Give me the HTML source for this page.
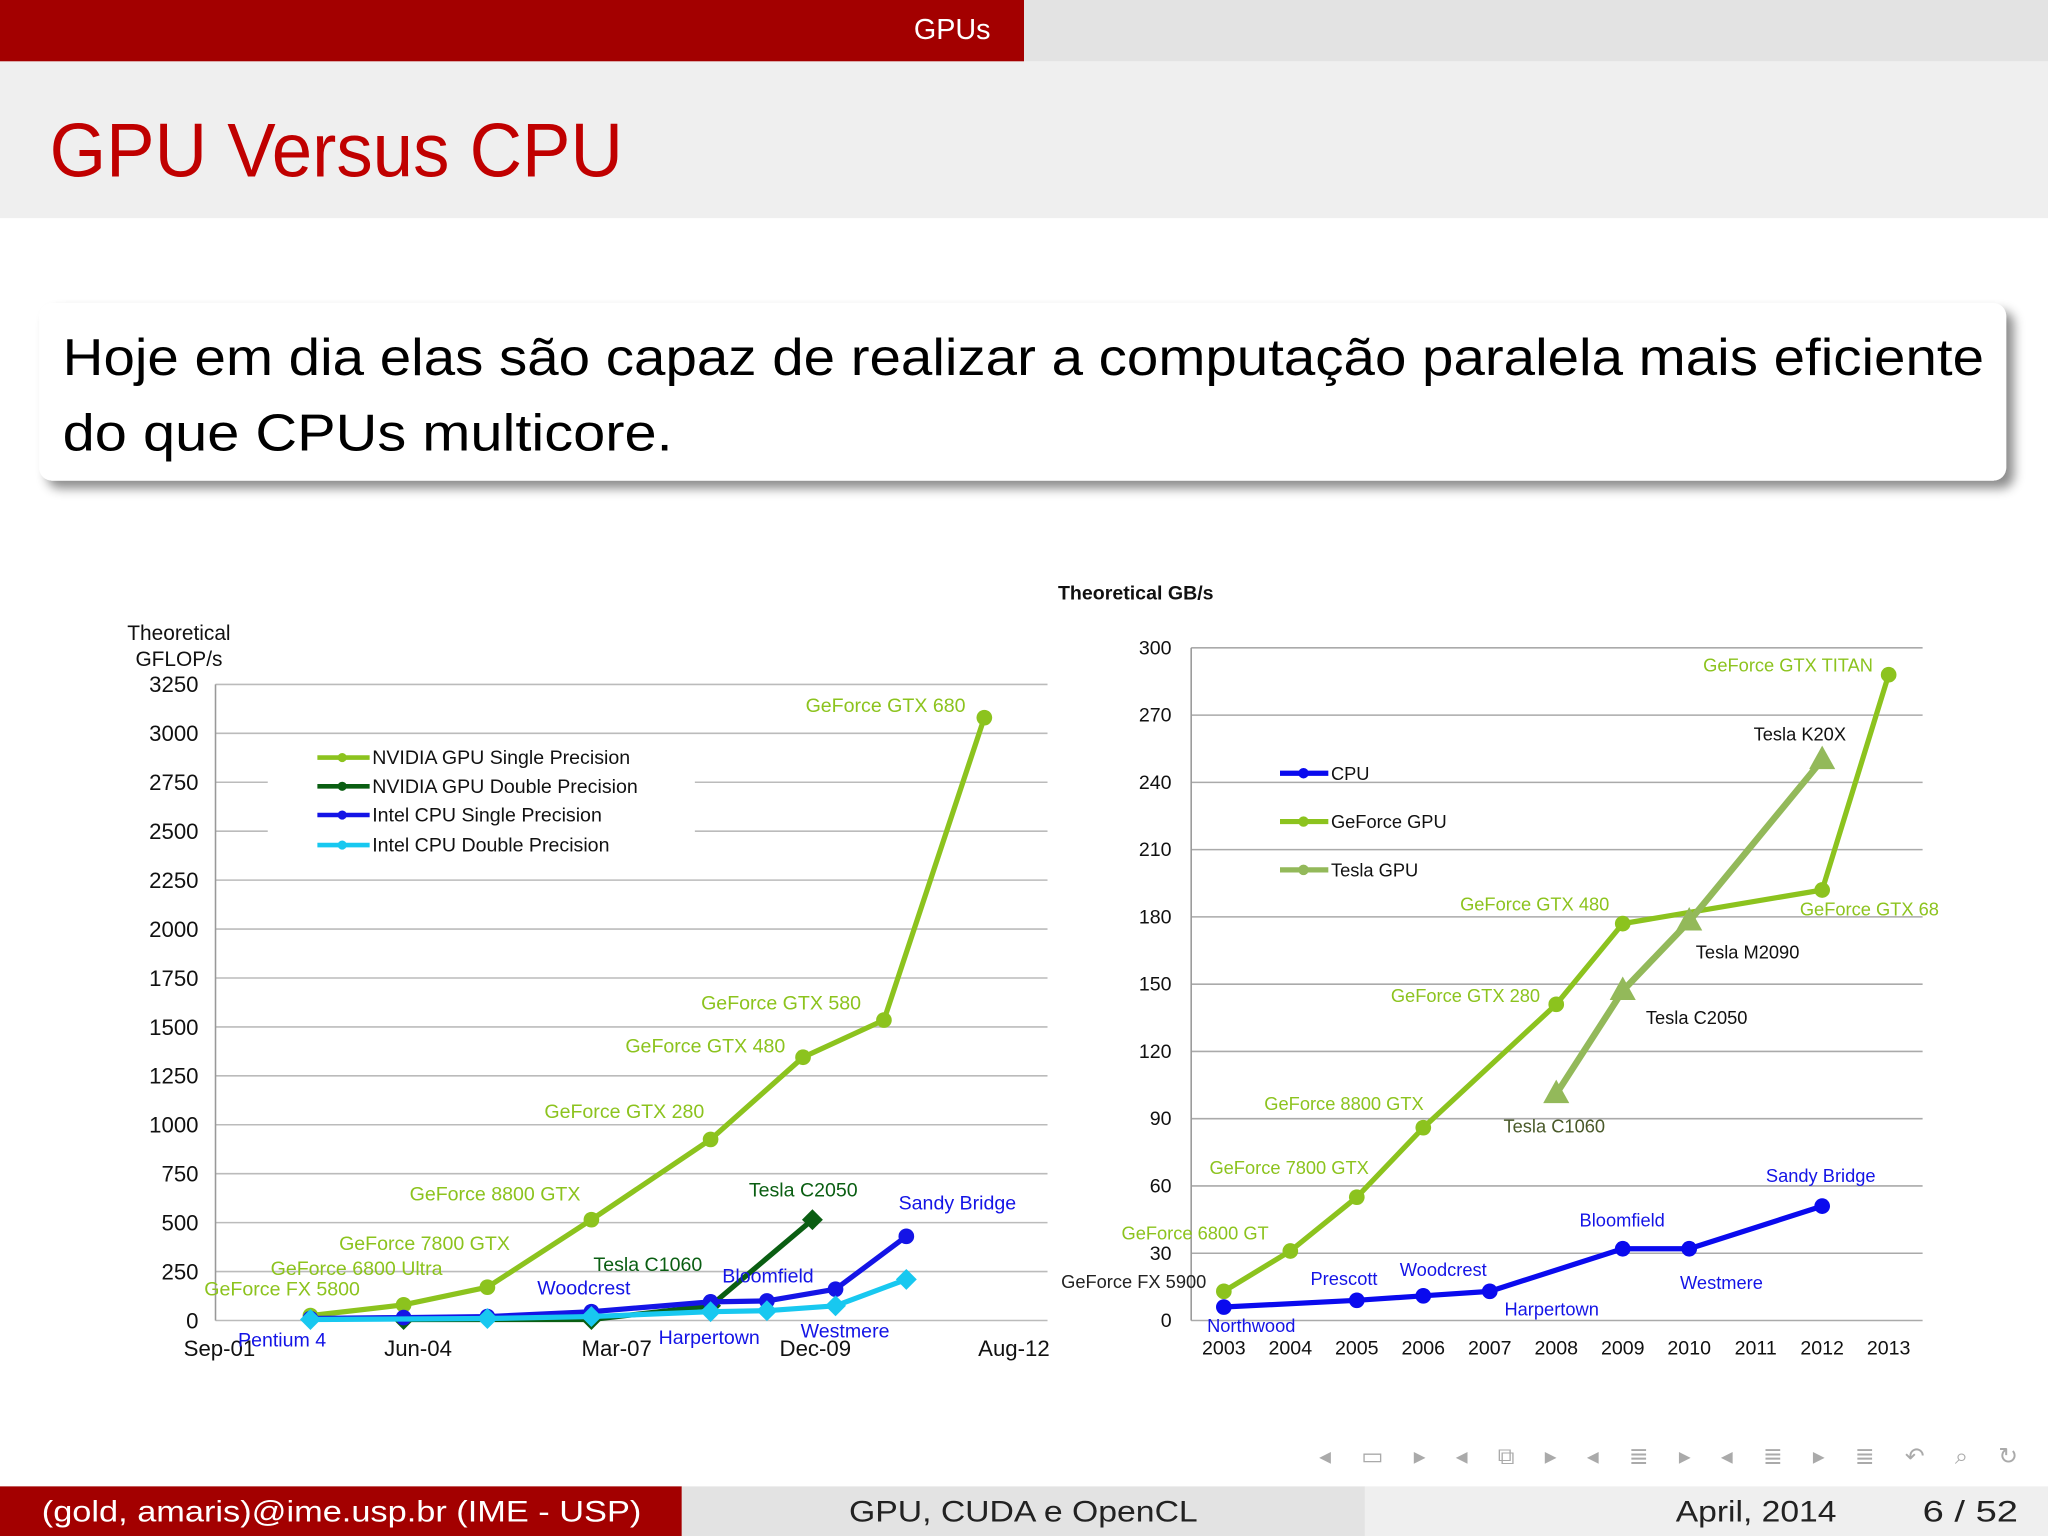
<!DOCTYPE html>
<html><head><meta charset="utf-8"><style>
html,body{margin:0;padding:0;background:#fff;}
svg{display:block;}
text{font-family:"Liberation Sans","DejaVu Sans",sans-serif;}
</style></head><body>
<svg id="slide" width="2048" height="1536" viewBox="0 0 1568 1176" xmlns="http://www.w3.org/2000/svg">
<rect x="0" y="0" width="1568" height="1176" fill="#fff"/>
<g>
<rect x="0" y="0" width="784" height="47" fill="#a30000"/>
<rect x="784" y="0" width="784" height="47" fill="#e3e3e3"/>
<text x="729" y="30" fill="#fff" font-size="22" text-anchor="middle">GPUs</text>
</g>
<rect x="0" y="47" width="1568" height="120" fill="#efefef"/>
<text x="38" y="135" fill="#c00000" font-size="58" textLength="439" lengthAdjust="spacingAndGlyphs">GPU Versus CPU</text>
<defs><filter id="sh" x="-5%" y="-20%" width="115%" height="150%"><feDropShadow dx="6" dy="6" stdDeviation="4" flood-color="#000" flood-opacity="0.45"/></filter></defs>
<rect x="30" y="232" width="1506" height="136" rx="10" fill="#fff" filter="url(#sh)"/>
<text x="48" y="287" font-size="40" fill="#000" textLength="1471" lengthAdjust="spacingAndGlyphs">Hoje em dia elas são capaz de realizar a computação paralela mais eficiente</text>
<text x="48" y="345" font-size="40" fill="#000" textLength="467" lengthAdjust="spacingAndGlyphs">do que CPUs multicore.</text>

<g id="left"></g>
<g id="right"></g>

<g fill="#aaa" font-size="18">
<text x="1010" y="1121" textLength="535" lengthAdjust="spacing">◂ ▭ ▸   ◂ ⧉ ▸   ◂ ≣ ▸   ◂ ≣ ▸   ≣   ↶ ⌕ ↻</text>
</g>
<g>
<rect x="0" y="1138" width="522" height="38" fill="#a30000"/>
<rect x="522" y="1138" width="523" height="38" fill="#e3e3e3"/>
<rect x="1045" y="1138" width="523" height="38" fill="#efefef"/>
<text x="32" y="1165" fill="#fff" font-size="23" textLength="459" lengthAdjust="spacingAndGlyphs">(gold, amaris)@ime.usp.br  (IME - USP)</text>
<text x="650" y="1165" fill="#222" font-size="23" textLength="267" lengthAdjust="spacingAndGlyphs">GPU, CUDA e OpenCL</text>
<text x="1283" y="1165" fill="#222" font-size="23" textLength="123" lengthAdjust="spacingAndGlyphs">April, 2014</text>
<text x="1472" y="1165" fill="#222" font-size="23" textLength="73" lengthAdjust="spacingAndGlyphs">6 / 52</text>
</g>
</svg>
<script>
// ---- Left chart data (fractional year, GFLOP/s)
const leftTicks = [0,250,500,750,1000,1250,1500,1750,2000,2250,2500,2750,3000,3250];
const leftXLabels = ["Sep-01","Jun-04","Mar-07","Dec-09","Aug-12"];
const leftXLabelYears = [2001.67,2004.42,2007.17,2009.92,2012.67];
const gpuSpX = [2002.93,2004.22,2005.38,2006.82,2008.47,2009.75,2010.87,2012.26];
const gpuSpY = [25,80,170,515,925,1345,1535,3080];
const gpuDpX = [2004.22,2006.82,2008.47,2009.88];
const gpuDpY = [5,5,75,515];
const cpuSpX = [2002.93,2004.22,2005.38,2006.82,2008.47,2009.25,2010.2,2011.18];
const cpuSpY = [10,15,20,45,95,100,160,430];
const cpuDpX = [2002.93,2005.38,2006.82,2008.47,2009.25,2010.2,2011.18];
const cpuDpY = [5,10,20,45,50,75,210];
// ---- Right chart data (year, GB/s)
const rightTicks = [0,30,60,90,120,150,180,210,240,270,300];
const rightYears = [2003,2004,2005,2006,2007,2008,2009,2010,2011,2012,2013];
const cpuBwX = [2003,2005,2006,2007,2009,2010,2012];
const cpuBwY = [6,9,11,13,32,32,51];
const geBwX = [2003,2004,2005,2006,2008,2009,2012,2013];
const geBwY = [13,31,55,86,141,177,192,288];
const teslaBwX = [2008,2009,2010,2012];
const teslaBwY = [101,147,178,250];

const NS="http://www.w3.org/2000/svg";
function mk(parent,tag,attrs,txt){const e=document.createElementNS(NS,tag);for(const k in attrs)e.setAttribute(k,attrs[k]);if(txt!==undefined)e.textContent=txt;parent.appendChild(e);return e;}

const L=document.getElementById('left');
const lx=v=>168+(v-2001.67)*55.3;
const ly=v=>1011-v*(487/3250);
leftTicks.forEach(t=>{
 const g=mk(L,'line',{x1:165,x2:802,y1:ly(t),y2:ly(t),stroke:'#bbb','stroke-width':1.2});
 
 
 const tx=mk(L,'text',{x:152,y:ly(t)+6,'font-size':17,'text-anchor':'end',fill:'#111'},String(t));
 
 
});
mk(L,'line',{x1:165,x2:165,y1:524,y2:1011,stroke:'#999','stroke-width':1.2});
leftXLabels.forEach((s,i)=>{
 const tx=mk(L,'text',{x:lx(leftXLabelYears[i]),y:1038,'font-size':17,'text-anchor':'middle',fill:'#111'},s);
 
 
});
const lt=mk(L,'text',{x:137,y:490,'font-size':16,'text-anchor':'middle',fill:'#111'},'Theoretical');


const lt2=mk(L,'text',{x:137,y:510,'font-size':16,'text-anchor':'middle',fill:'#111'},'GFLOP/s');


mk(L,'rect',{x:205,y:566,width:327,height:92,fill:'#fff'});
function series(P,xs,ys,fx,fy,color,marker,name,w){
 const pts=xs.map((x,i)=>fx(x)+','+fy(ys[i])).join(' ');
 const pl=mk(P,'polyline',{points:pts,fill:'none',stroke:color,'stroke-width':w||4,'stroke-linejoin':'round'});
 
 
 xs.forEach((x,i)=>{
  const cx=fx(x),cy=fy(ys[i]);let m;
  if(marker==='circle')m=mk(P,'circle',{cx:cx,cy:cy,r:6,fill:color});
  else if(marker==='diamond')m=mk(P,'polygon',{points:`${cx},${cy-8} ${cx+8},${cy} ${cx},${cy+8} ${cx-8},${cy}`,fill:color});
  else m=mk(P,'polygon',{points:`${cx},${cy-11} ${cx+10},${cy+7} ${cx-10},${cy+7}`,fill:color});
  
  
 });
}
series(L,gpuDpX,gpuDpY,lx,ly,'#0a5e12','diamond','nvidia-dp');
series(L,gpuSpX,gpuSpY,lx,ly,'#8cc31e','circle','nvidia-sp');
series(L,cpuSpX,cpuSpY,lx,ly,'#1414e6','circle','intel-sp');
series(L,cpuDpX,cpuDpY,lx,ly,'#18c8f0','diamond','intel-dp');
const legL=[['NVIDIA GPU Single Precision','#8cc31e'],['NVIDIA GPU Double Precision','#0a5e12'],['Intel CPU Single Precision','#1414e6'],['Intel CPU Double Precision','#18c8f0']];
legL.forEach((d,i)=>{
 const y=[580,602,624,647][i];
 const ln=mk(L,'line',{x1:243,x2:283,y1:y,y2:y,stroke:d[1],'stroke-width':3.5});
 
 
 mk(L,'circle',{cx:262,cy:y,r:3.5,fill:d[1]});
 const t=mk(L,'text',{x:285,y:y+5,'font-size':15,fill:'#111'},d[0]);
 
 
});
const annL=[["GeForce GTX 680",678,545,'#8cc31e'],["GeForce GTX 580",598,773,'#8cc31e'],["GeForce GTX 480",540,806,'#8cc31e'],["GeForce GTX 280",478,856,'#8cc31e'],["GeForce 8800 GTX",379,919,'#8cc31e'],["GeForce 7800 GTX",325,957,'#8cc31e'],["GeForce 6800 Ultra",273,976,'#8cc31e'],["GeForce FX 5800",216,992,'#8cc31e'],["Tesla C2050",615,916,'#0a5e12'],["Tesla C1060",496,973,'#0a5e12'],["Sandy Bridge",733,926,'#1414e6'],["Bloomfield",588,982,'#1414e6'],["Woodcrest",447,991,'#1414e6'],["Pentium 4",216,1031,'#1414e6'],["Harpertown",543,1029,'#1414e6'],["Westmere",647,1024,'#1414e6']];
annL.forEach(a=>{
 const t=mk(L,'text',{x:a[1],y:a[2],'font-size':15,'text-anchor':'middle',fill:a[3]},a[0]);
 
 
});

const R=document.getElementById('right');
const rx=v=>937+(v-2003)*50.9;
const ry=v=>1011-v*(515/300);
rightTicks.forEach(t=>{
 const g=mk(R,'line',{x1:912,x2:1472,y1:ry(t),y2:ry(t),stroke:'#aaa','stroke-width':1.2});
 
 
 const tx=mk(R,'text',{x:897,y:ry(t)+5,'font-size':15,'text-anchor':'end',fill:'#111'},String(t));
 
 
});
mk(R,'line',{x1:912,x2:912,y1:496,y2:1011,stroke:'#999','stroke-width':1.2});
rightYears.forEach(y=>{
 const tx=mk(R,'text',{x:rx(y),y:1037,'font-size':15,'text-anchor':'middle',fill:'#111'},String(y));
 
 
});
const rt=mk(R,'text',{x:810,y:459,'font-size':15,'font-weight':'bold',fill:'#111'},'Theoretical GB/s');


series(R,geBwX,geBwY,rx,ry,'#8cc31e','circle','geforce-bw',4);
series(R,teslaBwX,teslaBwY,rx,ry,'#93b95a','tri','tesla-bw',5);
series(R,cpuBwX,cpuBwY,rx,ry,'#0a0aee','circle','cpu-bw',4);
const legR=[['CPU','#0a0aee'],['GeForce GPU','#8cc31e'],['Tesla GPU','#93b95a']];
legR.forEach((d,i)=>{
 const y=[592,629,666][i];
 const ln=mk(R,'line',{x1:980,x2:1017,y1:y,y2:y,stroke:d[1],'stroke-width':4});
 
 
 mk(R,'circle',{cx:998,cy:y,r:4,fill:d[1]});
 const t=mk(R,'text',{x:1019,y:y+5,'font-size':14,fill:'#111'},d[0]);
 
 
});
const annR=[["GeForce GTX TITAN",1369,514,'#8cc31e','middle'],["Tesla K20X",1378,567,'#111','middle'],["GeForce GTX 480",1175,697,'#8cc31e','middle'],["GeForce GTX 68",1378,701,'#8cc31e','start'],["Tesla M2090",1338,734,'#111','middle'],["GeForce GTX 280",1122,767,'#8cc31e','middle'],["Tesla C2050",1299,784,'#111','middle'],["GeForce 8800 GTX",1029,850,'#8cc31e','middle'],["Tesla C1060",1190,867,'#4a5a2a','middle'],["GeForce 7800 GTX",987,899,'#8cc31e','middle'],["Sandy Bridge",1394,905,'#1414e6','middle'],["Bloomfield",1242,939,'#1414e6','middle'],["GeForce 6800 GT",915,949,'#8cc31e','middle'],["GeForce FX 5900",868,986,'#222','middle'],["Prescott",1029,984,'#1414e6','middle'],["Woodcrest",1105,977,'#1414e6','middle'],["Westmere",1318,987,'#1414e6','middle'],["Harpertown",1188,1007,'#1414e6','middle'],["Northwood",958,1020,'#1414e6','middle']];
annR.forEach(a=>{
 const t=mk(R,'text',{x:a[1],y:a[2],'font-size':14,'text-anchor':a[4],fill:a[3]},a[0]);
 
 
});
</script>
</body></html>
